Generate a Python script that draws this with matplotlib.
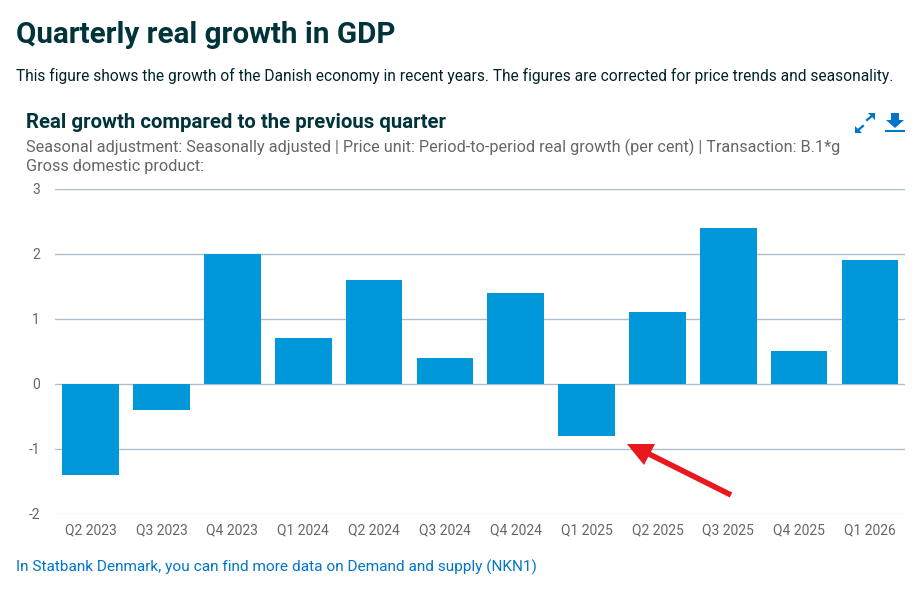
import matplotlib
matplotlib.use('Agg')
import matplotlib.pyplot as plt
from matplotlib.patches import Polygon

plt.rcParams['font.family'] = ['Roboto', 'DejaVu Sans']

quarters = ['Q2 2023', 'Q3 2023', 'Q4 2023', 'Q1 2024', 'Q2 2024', 'Q3 2024',
            'Q4 2024', 'Q1 2025', 'Q2 2025', 'Q3 2025', 'Q4 2025', 'Q1 2026']
growth = [-1.4, -0.4, 2.0, 0.7, 1.6, 0.4, 1.4, -0.8, 1.1, 2.4, 0.5, 1.9]
y_ticks = [-2, -1, 0, 1, 2, 3]
y_labels = ['-2', '-1', '0', '1', '2', '3']

W, H = 923, 590
fig = plt.figure(figsize=(W / 100, H / 100), dpi=100, facecolor='white')

# plot area in pixels: x 55-905, y 189-513
ax = fig.add_axes([55.3 / W, 1 - 513.5 / H, 850 / W, 324.5 / H])
ax.bar(range(len(growth)), growth, width=0.8, color='#0098d8', zorder=3)
ax.set_xlim(-0.5, 11.5)
ax.set_ylim(-2, 3)
ax.set_yticks(y_ticks)
ax.set_yticklabels(y_labels)
ax.set_xticks(range(len(quarters)))
ax.set_xticklabels(quarters)
ax.tick_params(axis='both', length=0, colors='#666666', labelsize=10)
ax.tick_params(axis='x', pad=7)
ax.tick_params(axis='y', pad=16)
for lab in ax.get_yticklabels():
    lab.set_x(0.008)
ax.grid(axis='y', color='#aebfcc', linewidth=1, zorder=1)
ax.grid(axis='x', visible=False)
ax.get_ygridlines()[0].set_color('#ccd6dd')
for s in ax.spines.values():
    s.set_visible(False)

# overlay in pixel coordinates for text, icons and the red arrow
ov = fig.add_axes([0, 0, 1, 1], facecolor='none')
ov.set_xlim(0, W)
ov.set_ylim(H, 0)
ov.axis('off')

ov.text(16, 35, 'Quarterly real growth in GDP', fontsize=21.3, fontweight='bold',
        color='#00333a', va='center')
ov.text(16, 76, 'This figure shows the growth of the Danish economy in recent years. '
        'The figures are corrected for price trends and seasonality.',
        fontsize=11.17, color='#00232d', va='center')
ov.text(26, 122, 'Real growth compared to the previous quarter', fontsize=14.7,
        fontweight='bold', color='#00333a', va='center')
ov.text(26, 147.5, 'Seasonal adjustment: Seasonally adjusted | Price unit: Period-to-period '
        'real growth (per cent) | Transaction: B.1*g', fontsize=11.7, color='#666666', va='center')
ov.text(26, 167, 'Gross domestic product:', fontsize=11.7, color='#666666', va='center')
ov.text(16, 567.5, 'In Statbank Denmark, you can find more data on Demand and supply (NKN1)',
        fontsize=11.05, color='#0075c9', va='center')

# red arrow
ov.plot([731, 645], [495, 452], color='#e8191c', linewidth=4, solid_capstyle='butt')
ov.add_patch(Polygon([[627, 444], [655, 444], [644, 465]], closed=True, color='#e8191c', lw=0))

# expand icon
blue = '#0075c9'
ov.plot([857, 863], [131, 126], color=blue, linewidth=1.6)
ov.plot([867, 873], [120, 115], color=blue, linewidth=1.6)
ov.add_patch(Polygon([[855, 133], [855, 126], [862, 133]], closed=True, color=blue, lw=0))
ov.add_patch(Polygon([[875, 113], [875, 120], [868, 113]], closed=True, color=blue, lw=0))

# download icon
ov.add_patch(Polygon([[891, 113], [899, 113], [899, 120], [904, 120], [895, 128], [886, 120], [891, 120]],
                     closed=True, color=blue, lw=0))
ov.plot([886, 904], [131, 131], color=blue, linewidth=1.5)

fig.savefig('out.png', dpi=100)
